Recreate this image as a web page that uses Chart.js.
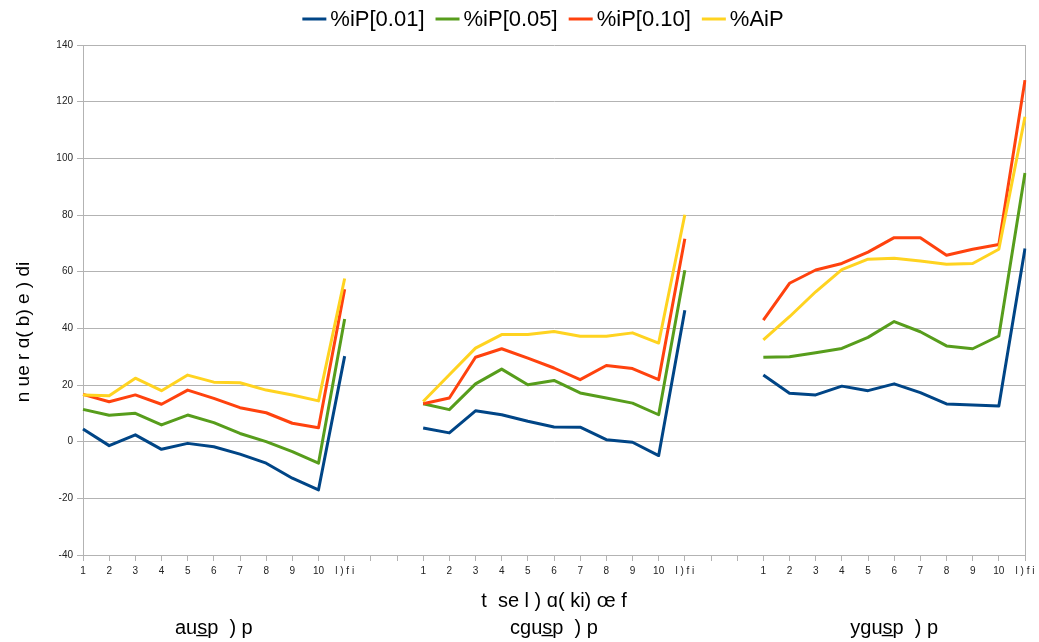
<!DOCTYPE html>
<html>
<head>
<meta charset="utf-8">
<script src="https://cdn.jsdelivr.net/npm/chart.js@4/dist/chart.umd.min.js"></script>
<style>
  html, body { margin: 0; padding: 0; background: #ffffff; }
  #c { display: block; }
</style>
</head>
<body>
<canvas id="c" width="1039" height="642"></canvas>
<script>
// Category axis: three groups of eleven, separated by two empty slots
const categories = [
  '1','2','3','4','5','6','7','8','9','10','l ) f i', '', '',
  '1','2','3','4','5','6','7','8','9','10','l ) f i', '', '',
  '1','2','3','4','5','6','7','8','9','10','l ) f i'
];
const groupNames = ['aus\u0332p  ) p', 'cgus\u0332p  ) p', 'ygus\u0332p  ) p'];
const groupCenterIndex = [5, 18, 31];

const seriesNames  = ['%iP[0.01]', '%iP[0.05]', '%iP[0.10]', '%AiP'];
const seriesColors = ['#004586', '#579d1c', '#ff420e', '#ffd320'];

// Values per series (null = gap between groups)
const iP001 = [
  4.5, -1.4, 2.4, -2.7, -0.6, -1.8, -4.4, -7.6, -12.9, -17.0, 30.2, null, null,
  4.8, 3.1, 10.9, 9.5, 7.2, 5.2, 5.1, 0.7, -0.2, -4.9, 46.4, null, null,
  23.5, 17.1, 16.5, 19.6, 18.0, 20.4, 17.3, 13.3, 12.9, 12.6, 68.2
];
const iP005 = [
  11.4, 9.3, 10.0, 5.9, 9.4, 6.7, 2.9, 0.0, -3.5, -7.6, 43.3, null, null,
  13.4, 11.3, 20.4, 25.6, 20.1, 21.6, 17.2, 15.4, 13.6, 9.5, 60.5, null, null,
  29.8, 30.0, 31.4, 32.9, 36.8, 42.4, 38.8, 33.8, 32.8, 37.3, 94.8
];
const iP010 = [
  16.7, 14.1, 16.5, 13.2, 18.2, 15.3, 12.0, 10.2, 6.5, 4.9, 53.8, null, null,
  13.4, 15.4, 29.8, 32.8, 29.5, 26.0, 21.9, 26.9, 25.8, 21.9, 71.6, null, null,
  42.9, 55.9, 60.6, 62.9, 66.9, 72.0, 72.0, 65.8, 67.9, 69.6, 127.6
];
const AiP = [
  16.5, 16.2, 22.4, 18.0, 23.5, 21.0, 20.8, 18.2, 16.5, 14.4, 57.6, null, null,
  14.2, 23.6, 33.0, 37.8, 37.8, 38.9, 37.2, 37.2, 38.4, 34.8, 80.1, null, null,
  35.9, 44.1, 52.9, 60.7, 64.4, 64.7, 63.8, 62.6, 62.9, 67.9, 114.7
];

const yMin = -40, yMax = 140, yStep = 20;
const xTitle = 't  se l ) \u0251( ki) \u0153 f';
const yTitle = 'n ue r \u0251( b) e ) di';

const gridGray = '#b3b3b3';
const FONT = '"Liberation Sans", Arial, sans-serif';

// Legend, axis titles and group names drawn on the canvas
const decorations = {
  id: 'decorations',
  afterDraw(chart) {
    const ctx = chart.ctx;
    const area = chart.chartArea;
    const xs = chart.scales.x;
    ctx.save();

    // legend row
    ctx.font = '22px ' + FONT;
    ctx.textBaseline = 'middle';
    ctx.textAlign = 'left';
    const sampleW = 24, sampleGap = 4, itemGap = 11;
    let total = 0;
    const widths = seriesNames.map(n => ctx.measureText(n).width);
    widths.forEach(w => total += sampleW + sampleGap + w);
    total += itemGap * (seriesNames.length - 1);
    let x = 543 - total / 2;
    const ly = 19;
    seriesNames.forEach((name, i) => {
      ctx.strokeStyle = seriesColors[i];
      ctx.lineWidth = 3;
      ctx.beginPath();
      ctx.moveTo(x, ly);
      ctx.lineTo(x + sampleW, ly);
      ctx.stroke();
      ctx.fillStyle = '#000000';
      ctx.fillText(name, x + sampleW + sampleGap, ly + 1);
      x += sampleW + sampleGap + widths[i] + itemGap;
    });

    // x axis title
    ctx.fillStyle = '#000000';
    ctx.font = '20px ' + FONT;
    ctx.textAlign = 'center';
    ctx.fillText(xTitle, (area.left + area.right) / 2, 601);

    // group names under each block of categories
    groupNames.forEach((g, i) => {
      ctx.fillText(g, xs.getPixelForValue(groupCenterIndex[i]), 628);
    });

    // y axis title
    ctx.translate(24, 332);
    ctx.rotate(-Math.PI / 2);
    ctx.font = '19px ' + FONT;
    ctx.fillText(yTitle, 0, 0);
    ctx.restore();
  }
};

const seriesData = [iP001, iP005, iP010, AiP];

new Chart(document.getElementById('c'), {
  type: 'line',
  data: {
    labels: categories,
    datasets: seriesData.map((d, i) => ({
      label: seriesNames[i],
      data: d,
      borderColor: seriesColors[i],
      backgroundColor: seriesColors[i],
      borderWidth: 3,
      pointRadius: 0,
      pointHoverRadius: 0,
      tension: 0,
      spanGaps: false,
      borderJoinStyle: 'round',
      order: seriesData.length - i
    }))
  },
  options: {
    responsive: false,
    animation: false,
    devicePixelRatio: 1,
    layout: { padding: { left: 0, right: 14, top: 45, bottom: 0 } },
    plugins: {
      legend: { display: false },
      tooltip: { enabled: false }
    },
    scales: {
      x: {
        type: 'category',
        offset: false,
        grid: {
          color: c => (c.index === categories.length - 1 ? gridGray : 'rgba(0,0,0,0)'),
          tickColor: gridGray,
          tickLength: 6,
          lineWidth: 1
        },
        border: { color: gridGray },
        ticks: {
          autoSkip: false,
          maxRotation: 0,
          padding: 4,
          color: '#222222',
          font: { family: FONT, size: 10 }
        },
        afterFit: s => { s.height = 87; }
      },
      y: {
        min: yMin,
        max: yMax,
        grid: { color: gridGray, tickColor: gridGray, tickLength: 6 },
        border: { color: gridGray },
        ticks: {
          stepSize: yStep,
          padding: 4,
          color: '#222222',
          font: { family: FONT, size: 10 }
        },
        afterFit: s => { s.width = 83; }
      }
    }
  },
  plugins: [decorations]
});
</script>
</body>
</html>
